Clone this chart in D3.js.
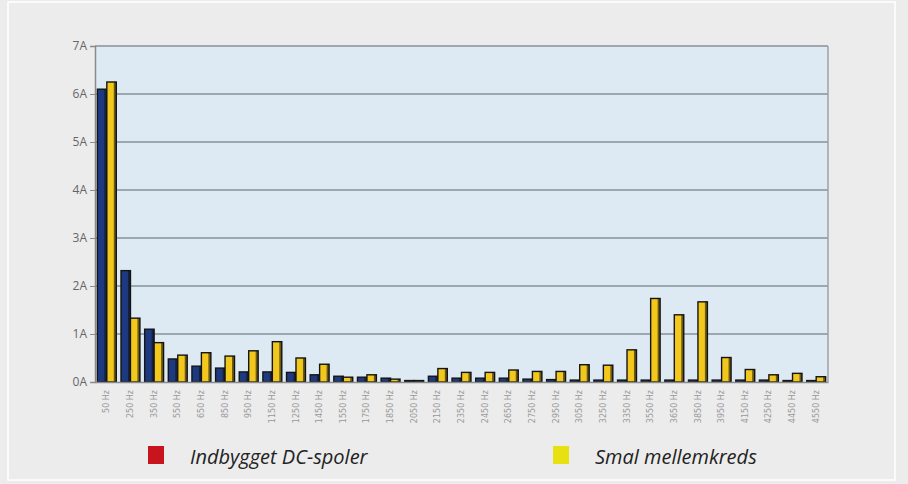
<!DOCTYPE html>
<html>
<head>
<meta charset="utf-8">
<script src="https://cdn.jsdelivr.net/npm/d3@7"></script>
<style>
  body { margin: 0; background: #ececec; }
  svg { display: block; }
</style>
</head>
<body>
<div id="chart"></div>
<script>
const categories = ["50 Hz", "250 Hz", "350 Hz", "550 Hz", "650 Hz", "850 Hz", "950 Hz", "1150 Hz",
  "1250 Hz", "1450 Hz", "1550 Hz", "1750 Hz", "1850 Hz", "2050 Hz", "2150 Hz", "2350 Hz",
  "2450 Hz", "2650 Hz", "2750 Hz", "2950 Hz", "3050 Hz", "3250 Hz", "3350 Hz", "3550 Hz",
  "3650 Hz", "3850 Hz", "3950 Hz", "4150 Hz", "4250 Hz", "4450 Hz", "4550 Hz"];
const dcSpoler = [6.1, 2.32, 1.1, 0.48, 0.33, 0.29, 0.21, 0.21, 0.2, 0.15, 0.12, 0.1, 0.08, 0.03, 0.12,
  0.08, 0.08, 0.08, 0.06, 0.05, 0.04, 0.04, 0.04, 0.04, 0.04, 0.04, 0.04, 0.04, 0.04, 0.03, 0.03];
const smalMellemkreds = [6.25, 1.33, 0.82, 0.56, 0.61, 0.54, 0.65, 0.84, 0.5, 0.37, 0.1, 0.15, 0.06, 0.03, 0.28,
  0.2, 0.2, 0.25, 0.22, 0.22, 0.36, 0.35, 0.67, 1.74, 1.4, 1.67, 0.51, 0.26, 0.15, 0.18, 0.11];
const yTicks = [0, 1, 2, 3, 4, 5, 6, 7];
const seriesNames = ["Indbygget DC-spoler", "Smal mellemkreds"];

const width = 908, height = 484;
const margin = { top: 46, right: 80, bottom: 102, left: 95 };
const innerW = width - margin.left - margin.right;
const innerH = height - margin.top - margin.bottom;

const svg = d3.select("#chart").append("svg")
    .attr("width", width)
    .attr("height", height);

// outer frame
svg.append("rect")
    .attr("x", 8).attr("y", 2)
    .attr("width", 887).attr("height", 478)
    .attr("fill", "#ececec")
    .attr("stroke", "#ffffff")
    .attr("stroke-width", 1.5);

const g = svg.append("g")
    .attr("transform", `translate(${margin.left},${margin.top})`);

const x = d3.scaleBand()
    .domain(categories)
    .range([0, innerW])
    .paddingInner(0.2)
    .paddingOuter(0.1);
const xs = d3.scaleBand()
    .domain([0, 1])
    .range([0, x.bandwidth()]);
const y = d3.scaleLinear()
    .domain([0, 7])
    .range([innerH, 0]);

// plot background
g.append("rect")
    .attr("width", innerW).attr("height", innerH)
    .attr("fill", "#dde9f3");

// gridlines
g.selectAll(".grid")
    .data(yTicks.slice(1))
    .enter().append("line")
    .attr("x1", 0).attr("x2", innerW)
    .attr("y1", d => y(d)).attr("y2", d => y(d))
    .attr("stroke", "#87919a")
    .attr("stroke-width", 1.6);

// right border of plot
g.append("line")
    .attr("x1", innerW).attr("x2", innerW)
    .attr("y1", 0).attr("y2", innerH)
    .attr("stroke", "#9aa3ab")
    .attr("stroke-width", 1.5);

// bars
const colors = ["#1d3a80", "#f2c81c"];
[dcSpoler, smalMellemkreds].forEach((vals, s) => {
    const bars = g.selectAll(`.bar-${s}`)
        .data(vals)
        .enter().append("g")
        .attr("class", `bar-${s}`);
    bars.append("rect")
        .attr("x", (d, i) => x(categories[i]) + xs(s))
        .attr("y", d => y(d))
        .attr("width", xs.bandwidth())
        .attr("height", d => innerH - y(d))
        .attr("fill", colors[s])
        .attr("stroke", "#151515")
        .attr("stroke-width", 1.4);
    // darker side for a bit of depth
    bars.append("rect")
        .attr("x", (d, i) => x(categories[i]) + xs(s) + xs.bandwidth() - 2.5)
        .attr("y", d => y(d))
        .attr("width", 2.5)
        .attr("height", d => innerH - y(d))
        .attr("fill", "#111")
        .attr("opacity", 0.6);
});

// y axis
const yAxis = g.append("g")
    .call(d3.axisLeft(y).tickValues(yTicks).tickFormat(d => d + "A").tickSize(5).tickPadding(3));
yAxis.select(".domain").attr("stroke", "#8a8a8a").attr("stroke-width", 1.5);
yAxis.selectAll(".tick line").attr("stroke", "#8a8a8a");
yAxis.selectAll(".tick text")
    .attr("fill", "#666")
    .style("font-family", "'Open Sans', sans-serif")
    .style("font-size", "12px");

// x axis
const xAxis = g.append("g")
    .attr("transform", `translate(0,${innerH})`)
    .call(d3.axisBottom(x).tickSize(0).tickPadding(0));
xAxis.select(".domain").attr("stroke", "#8a8a8a").attr("stroke-width", 1.5);
xAxis.selectAll(".tick text")
    .attr("transform", "rotate(-90)")
    .attr("x", -8).attr("y", 0).attr("dy", "0.32em")
    .style("text-anchor", "end")
    .attr("fill", "#999")
    .style("font-family", "'DejaVu Sans', sans-serif")
    .style("font-size", "8px");

// legend
const legend = svg.append("g");
const legendX = [148, 553];
const legendColors = ["#c8141c", "#e8e112"];
seriesNames.forEach((name, i) => {
    legend.append("rect")
        .attr("x", legendX[i]).attr("y", 446)
        .attr("width", 16).attr("height", 18)
        .attr("fill", legendColors[i]);
    legend.append("text")
        .attr("x", legendX[i] + 42).attr("y", 464)
        .attr("fill", "#222")
        .style("font-family", "'Open Sans', sans-serif")
        .style("font-style", "italic")
        .style("font-size", "20px")
        .text(name);
});
</script>
</body>
</html>
